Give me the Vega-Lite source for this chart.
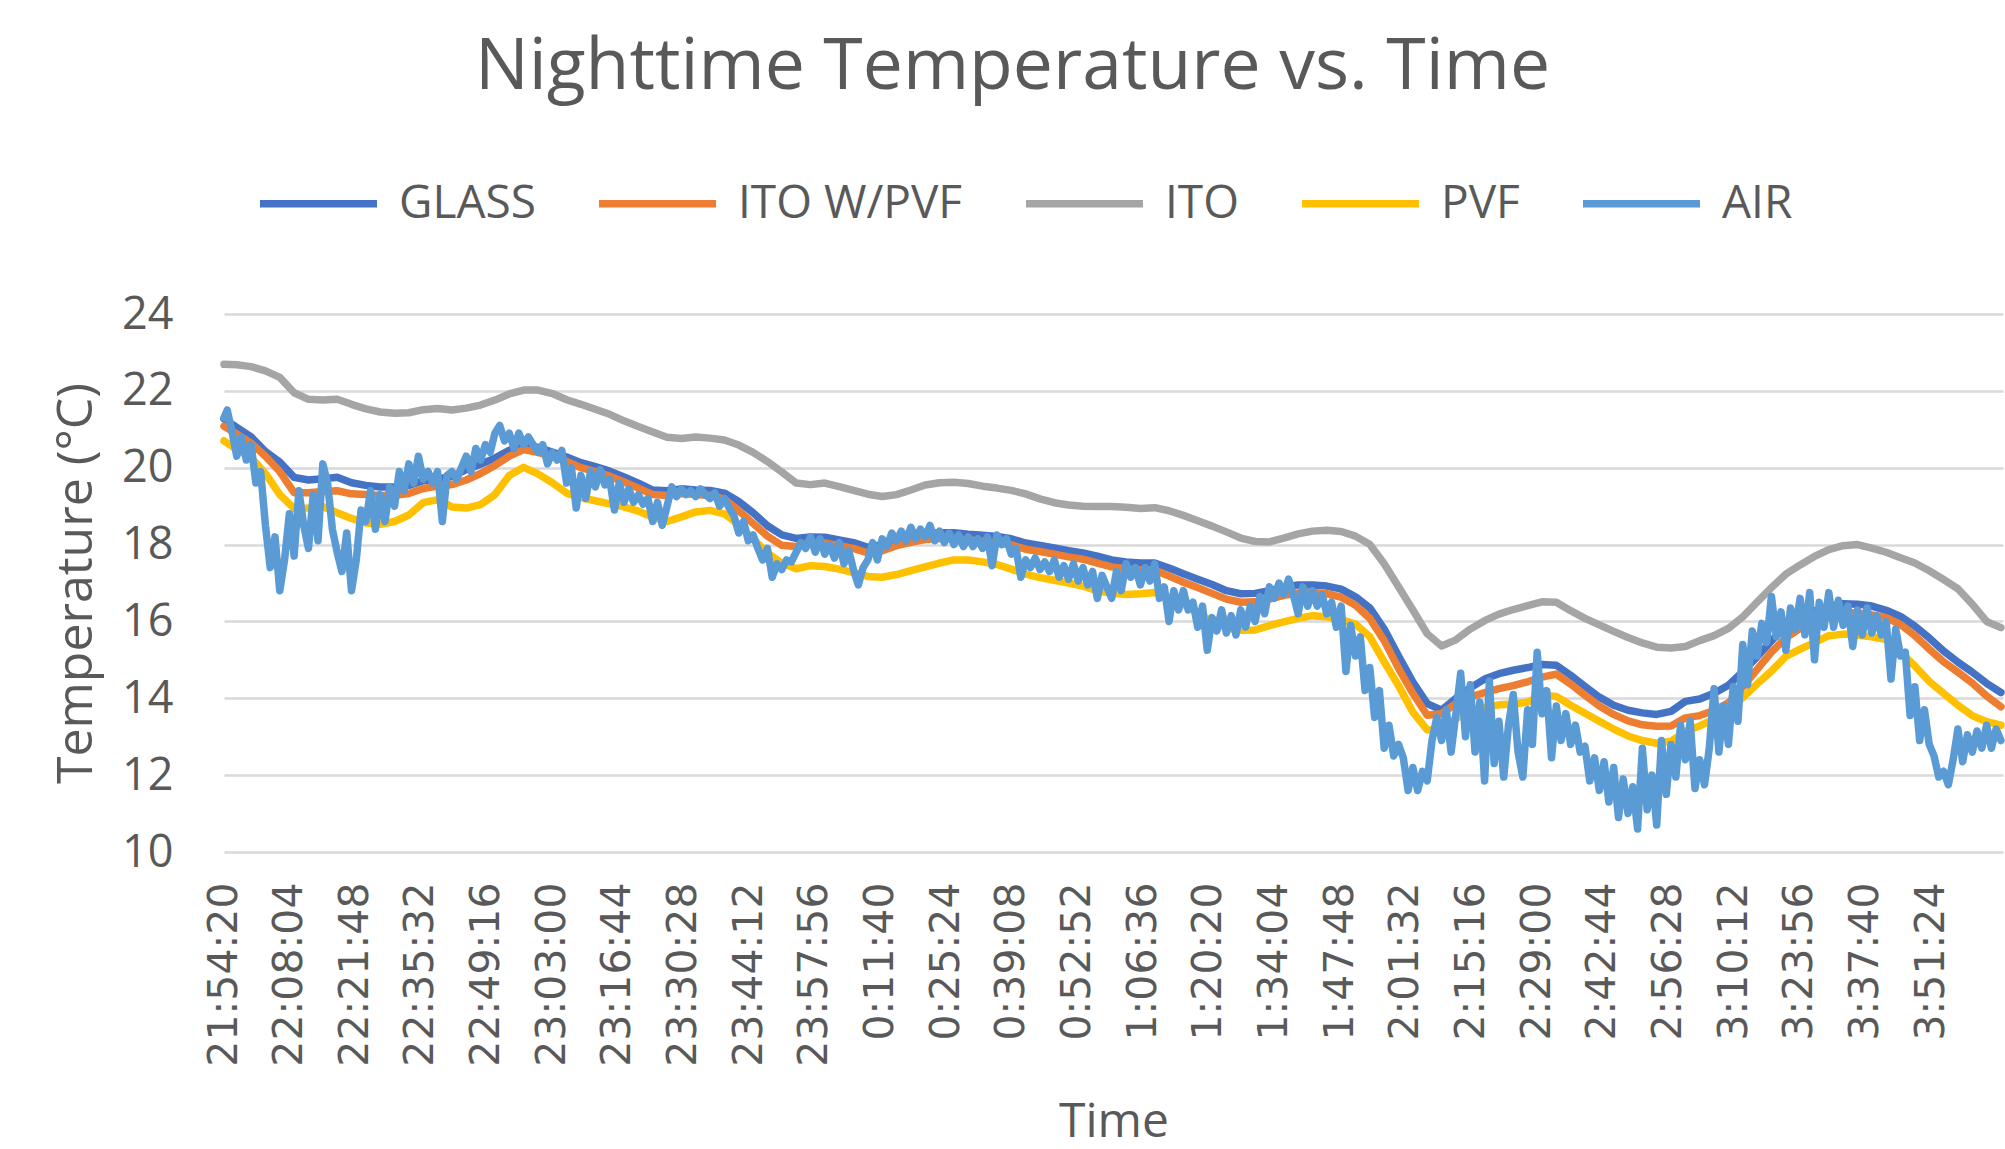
{
"$schema": "https://vega.github.io/schema/vega-lite/v6.json",
"width": 1779, "height": 538,
"autosize": {"type": "none"},
"padding": {"left": 224, "top": 314, "right": 2, "bottom": 297},
"background": "white",
"title": {"text": "Nighttime Temperature vs. Time", "font": "Open Sans", "fontSize": 71.5, "fontWeight": "normal", "color": "#595959", "anchor": "middle", "frame": "group", "dx": -101, "offset": 37},
"config": {"view": {"stroke": null}},
"datasets": {
"smooth": [
{"t":"2021-01-01T21:54:20","GLASS":21.27,"ITO W/PVF":21.08,"ITO":22.69,"PVF":20.7},
{"t":"2021-01-01T21:57","GLASS":21.05,"ITO W/PVF":20.88,"ITO":22.68,"PVF":20.48},
{"t":"2021-01-01T22:00","GLASS":20.8,"ITO W/PVF":20.64,"ITO":22.63,"PVF":20.26},
{"t":"2021-01-01T22:03","GLASS":20.42,"ITO W/PVF":20.3,"ITO":22.52,"PVF":19.85},
{"t":"2021-01-01T22:06","GLASS":20.15,"ITO W/PVF":19.9,"ITO":22.35,"PVF":19.3},
{"t":"2021-01-01T22:09","GLASS":19.75,"ITO W/PVF":19.35,"ITO":21.95,"PVF":18.94},
{"t":"2021-01-01T22:12","GLASS":19.68,"ITO W/PVF":19.35,"ITO":21.78,"PVF":18.95},
{"t":"2021-01-01T22:15","GLASS":19.71,"ITO W/PVF":19.38,"ITO":21.76,"PVF":18.99},
{"t":"2021-01-01T22:18","GLASS":19.75,"ITO W/PVF":19.4,"ITO":21.78,"PVF":18.83},
{"t":"2021-01-01T22:21","GLASS":19.61,"ITO W/PVF":19.32,"ITO":21.65,"PVF":18.68},
{"t":"2021-01-01T22:24","GLASS":19.54,"ITO W/PVF":19.3,"ITO":21.53,"PVF":18.56},
{"t":"2021-01-01T22:27","GLASS":19.5,"ITO W/PVF":19.28,"ITO":21.45,"PVF":18.53},
{"t":"2021-01-01T22:30","GLASS":19.5,"ITO W/PVF":19.28,"ITO":21.42,"PVF":18.6},
{"t":"2021-01-01T22:33","GLASS":19.54,"ITO W/PVF":19.33,"ITO":21.43,"PVF":18.77},
{"t":"2021-01-01T22:36","GLASS":19.66,"ITO W/PVF":19.46,"ITO":21.51,"PVF":19.09},
{"t":"2021-01-01T22:39","GLASS":19.71,"ITO W/PVF":19.52,"ITO":21.54,"PVF":19.17},
{"t":"2021-01-01T22:42","GLASS":19.77,"ITO W/PVF":19.56,"ITO":21.5,"PVF":18.98},
{"t":"2021-01-01T22:45","GLASS":19.95,"ITO W/PVF":19.68,"ITO":21.55,"PVF":18.95},
{"t":"2021-01-01T22:48","GLASS":20.09,"ITO W/PVF":19.85,"ITO":21.63,"PVF":19.04},
{"t":"2021-01-01T22:51","GLASS":20.25,"ITO W/PVF":20.06,"ITO":21.76,"PVF":19.3},
{"t":"2021-01-01T22:54","GLASS":20.45,"ITO W/PVF":20.3,"ITO":21.92,"PVF":19.8},
{"t":"2021-01-01T22:57","GLASS":20.62,"ITO W/PVF":20.47,"ITO":22.02,"PVF":20.01},
{"t":"2021-01-01T23:00","GLASS":20.53,"ITO W/PVF":20.4,"ITO":22.02,"PVF":19.84},
{"t":"2021-01-01T23:03","GLASS":20.41,"ITO W/PVF":20.29,"ITO":21.93,"PVF":19.61},
{"t":"2021-01-01T23:06","GLASS":20.28,"ITO W/PVF":20.16,"ITO":21.77,"PVF":19.34},
{"t":"2021-01-01T23:09","GLASS":20.13,"ITO W/PVF":20.0,"ITO":21.65,"PVF":19.22},
{"t":"2021-01-01T23:12","GLASS":20.03,"ITO W/PVF":19.9,"ITO":21.52,"PVF":19.14},
{"t":"2021-01-01T23:15","GLASS":19.91,"ITO W/PVF":19.78,"ITO":21.39,"PVF":19.06},
{"t":"2021-01-01T23:18","GLASS":19.76,"ITO W/PVF":19.63,"ITO":21.22,"PVF":18.98},
{"t":"2021-01-01T23:21","GLASS":19.6,"ITO W/PVF":19.47,"ITO":21.07,"PVF":18.87},
{"t":"2021-01-01T23:24","GLASS":19.42,"ITO W/PVF":19.3,"ITO":20.93,"PVF":18.71},
{"t":"2021-01-01T23:27","GLASS":19.4,"ITO W/PVF":19.28,"ITO":20.79,"PVF":18.6},
{"t":"2021-01-01T23:30","GLASS":19.45,"ITO W/PVF":19.33,"ITO":20.76,"PVF":18.72},
{"t":"2021-01-01T23:33","GLASS":19.42,"ITO W/PVF":19.3,"ITO":20.8,"PVF":18.85},
{"t":"2021-01-01T23:36","GLASS":19.41,"ITO W/PVF":19.28,"ITO":20.77,"PVF":18.89},
{"t":"2021-01-01T23:39","GLASS":19.34,"ITO W/PVF":19.18,"ITO":20.72,"PVF":18.8},
{"t":"2021-01-01T23:42","GLASS":19.12,"ITO W/PVF":18.88,"ITO":20.59,"PVF":18.52},
{"t":"2021-01-01T23:45","GLASS":18.83,"ITO W/PVF":18.55,"ITO":20.4,"PVF":18.15},
{"t":"2021-01-01T23:48","GLASS":18.49,"ITO W/PVF":18.22,"ITO":20.16,"PVF":17.78},
{"t":"2021-01-01T23:51","GLASS":18.25,"ITO W/PVF":17.98,"ITO":19.89,"PVF":17.52},
{"t":"2021-01-01T23:54","GLASS":18.16,"ITO W/PVF":17.95,"ITO":19.6,"PVF":17.37},
{"t":"2021-01-01T23:57","GLASS":18.2,"ITO W/PVF":18.04,"ITO":19.56,"PVF":17.45},
{"t":"2021-01-02T00:00","GLASS":18.19,"ITO W/PVF":18.04,"ITO":19.6,"PVF":17.43},
{"t":"2021-01-02T00:03","GLASS":18.12,"ITO W/PVF":17.97,"ITO":19.51,"PVF":17.36},
{"t":"2021-01-02T00:06","GLASS":18.05,"ITO W/PVF":17.9,"ITO":19.41,"PVF":17.27},
{"t":"2021-01-02T00:09","GLASS":17.93,"ITO W/PVF":17.78,"ITO":19.31,"PVF":17.17},
{"t":"2021-01-02T00:12","GLASS":18.0,"ITO W/PVF":17.84,"ITO":19.25,"PVF":17.15},
{"t":"2021-01-02T00:15","GLASS":18.12,"ITO W/PVF":17.97,"ITO":19.3,"PVF":17.22},
{"t":"2021-01-02T00:18","GLASS":18.21,"ITO W/PVF":18.06,"ITO":19.42,"PVF":17.32},
{"t":"2021-01-02T00:21","GLASS":18.28,"ITO W/PVF":18.13,"ITO":19.55,"PVF":17.42},
{"t":"2021-01-02T00:24","GLASS":18.31,"ITO W/PVF":18.16,"ITO":19.61,"PVF":17.52},
{"t":"2021-01-02T00:27","GLASS":18.31,"ITO W/PVF":18.16,"ITO":19.62,"PVF":17.6},
{"t":"2021-01-02T00:30","GLASS":18.27,"ITO W/PVF":18.12,"ITO":19.59,"PVF":17.6},
{"t":"2021-01-02T00:33","GLASS":18.24,"ITO W/PVF":18.09,"ITO":19.52,"PVF":17.55},
{"t":"2021-01-02T00:36","GLASS":18.21,"ITO W/PVF":18.05,"ITO":19.47,"PVF":17.48},
{"t":"2021-01-02T00:39","GLASS":18.15,"ITO W/PVF":17.99,"ITO":19.41,"PVF":17.36},
{"t":"2021-01-02T00:42","GLASS":18.04,"ITO W/PVF":17.88,"ITO":19.32,"PVF":17.23},
{"t":"2021-01-02T00:45","GLASS":17.98,"ITO W/PVF":17.82,"ITO":19.19,"PVF":17.14},
{"t":"2021-01-02T00:48","GLASS":17.91,"ITO W/PVF":17.75,"ITO":19.09,"PVF":17.07},
{"t":"2021-01-02T00:51","GLASS":17.84,"ITO W/PVF":17.68,"ITO":19.03,"PVF":17.0},
{"t":"2021-01-02T00:54","GLASS":17.78,"ITO W/PVF":17.62,"ITO":19.0,"PVF":16.92},
{"t":"2021-01-02T00:57","GLASS":17.7,"ITO W/PVF":17.52,"ITO":18.99,"PVF":16.79},
{"t":"2021-01-02T01:00","GLASS":17.6,"ITO W/PVF":17.42,"ITO":18.99,"PVF":16.74},
{"t":"2021-01-02T01:03","GLASS":17.55,"ITO W/PVF":17.37,"ITO":18.97,"PVF":16.7},
{"t":"2021-01-02T01:06","GLASS":17.52,"ITO W/PVF":17.34,"ITO":18.94,"PVF":16.72},
{"t":"2021-01-02T01:09","GLASS":17.52,"ITO W/PVF":17.33,"ITO":18.96,"PVF":16.75},
{"t":"2021-01-02T01:12","GLASS":17.39,"ITO W/PVF":17.18,"ITO":18.88,"PVF":16.64},
{"t":"2021-01-02T01:15","GLASS":17.24,"ITO W/PVF":17.02,"ITO":18.76,"PVF":16.45},
{"t":"2021-01-02T01:18","GLASS":17.1,"ITO W/PVF":16.88,"ITO":18.62,"PVF":16.21},
{"t":"2021-01-02T01:21","GLASS":16.96,"ITO W/PVF":16.73,"ITO":18.48,"PVF":16.0},
{"t":"2021-01-02T01:24","GLASS":16.8,"ITO W/PVF":16.58,"ITO":18.33,"PVF":15.83},
{"t":"2021-01-02T01:27","GLASS":16.72,"ITO W/PVF":16.5,"ITO":18.17,"PVF":15.77},
{"t":"2021-01-02T01:30","GLASS":16.73,"ITO W/PVF":16.51,"ITO":18.08,"PVF":15.78},
{"t":"2021-01-02T01:33","GLASS":16.8,"ITO W/PVF":16.58,"ITO":18.07,"PVF":15.89},
{"t":"2021-01-02T01:36","GLASS":16.89,"ITO W/PVF":16.68,"ITO":18.17,"PVF":15.99},
{"t":"2021-01-02T01:39","GLASS":16.95,"ITO W/PVF":16.74,"ITO":18.28,"PVF":16.08},
{"t":"2021-01-02T01:42","GLASS":16.95,"ITO W/PVF":16.75,"ITO":18.35,"PVF":16.15},
{"t":"2021-01-02T01:45","GLASS":16.92,"ITO W/PVF":16.72,"ITO":18.37,"PVF":16.12},
{"t":"2021-01-02T01:48","GLASS":16.84,"ITO W/PVF":16.63,"ITO":18.34,"PVF":16.05},
{"t":"2021-01-02T01:51","GLASS":16.64,"ITO W/PVF":16.42,"ITO":18.22,"PVF":15.93},
{"t":"2021-01-02T01:54","GLASS":16.35,"ITO W/PVF":16.08,"ITO":18.0,"PVF":15.6},
{"t":"2021-01-02T01:57","GLASS":15.8,"ITO W/PVF":15.5,"ITO":17.5,"PVF":14.95},
{"t":"2021-01-02T02:00","GLASS":15.1,"ITO W/PVF":14.78,"ITO":16.9,"PVF":14.33},
{"t":"2021-01-02T02:03","GLASS":14.42,"ITO W/PVF":14.13,"ITO":16.3,"PVF":13.64},
{"t":"2021-01-02T02:06","GLASS":13.86,"ITO W/PVF":13.56,"ITO":15.68,"PVF":13.18},
{"t":"2021-01-02T02:09","GLASS":13.69,"ITO W/PVF":13.6,"ITO":15.36,"PVF":13.15},
{"t":"2021-01-02T02:12","GLASS":14.0,"ITO W/PVF":13.86,"ITO":15.52,"PVF":13.48},
{"t":"2021-01-02T02:15","GLASS":14.27,"ITO W/PVF":14.03,"ITO":15.8,"PVF":13.65},
{"t":"2021-01-02T02:18","GLASS":14.5,"ITO W/PVF":14.15,"ITO":16.02,"PVF":13.76},
{"t":"2021-01-02T02:21","GLASS":14.64,"ITO W/PVF":14.25,"ITO":16.19,"PVF":13.83},
{"t":"2021-01-02T02:24","GLASS":14.73,"ITO W/PVF":14.33,"ITO":16.31,"PVF":13.85},
{"t":"2021-01-02T02:27","GLASS":14.8,"ITO W/PVF":14.43,"ITO":16.41,"PVF":13.9},
{"t":"2021-01-02T02:30","GLASS":14.88,"ITO W/PVF":14.55,"ITO":16.51,"PVF":14.08},
{"t":"2021-01-02T02:33","GLASS":14.86,"ITO W/PVF":14.63,"ITO":16.5,"PVF":14.05},
{"t":"2021-01-02T02:36","GLASS":14.6,"ITO W/PVF":14.37,"ITO":16.28,"PVF":13.82},
{"t":"2021-01-02T02:39","GLASS":14.31,"ITO W/PVF":14.08,"ITO":16.08,"PVF":13.61},
{"t":"2021-01-02T02:42","GLASS":14.03,"ITO W/PVF":13.8,"ITO":15.91,"PVF":13.4},
{"t":"2021-01-02T02:45","GLASS":13.82,"ITO W/PVF":13.58,"ITO":15.74,"PVF":13.2},
{"t":"2021-01-02T02:48","GLASS":13.69,"ITO W/PVF":13.41,"ITO":15.58,"PVF":13.02},
{"t":"2021-01-02T02:51","GLASS":13.62,"ITO W/PVF":13.31,"ITO":15.44,"PVF":12.9},
{"t":"2021-01-02T02:54","GLASS":13.58,"ITO W/PVF":13.27,"ITO":15.33,"PVF":12.83},
{"t":"2021-01-02T02:57","GLASS":13.66,"ITO W/PVF":13.28,"ITO":15.31,"PVF":12.88},
{"t":"2021-01-02T03:00","GLASS":13.92,"ITO W/PVF":13.49,"ITO":15.35,"PVF":13.14},
{"t":"2021-01-02T03:03","GLASS":13.98,"ITO W/PVF":13.55,"ITO":15.5,"PVF":13.28},
{"t":"2021-01-02T03:06","GLASS":14.13,"ITO W/PVF":13.68,"ITO":15.63,"PVF":13.46},
{"t":"2021-01-02T03:09","GLASS":14.34,"ITO W/PVF":13.88,"ITO":15.82,"PVF":13.68},
{"t":"2021-01-02T03:12","GLASS":14.69,"ITO W/PVF":14.3,"ITO":16.12,"PVF":14.02},
{"t":"2021-01-02T03:15","GLASS":15.08,"ITO W/PVF":14.75,"ITO":16.5,"PVF":14.37},
{"t":"2021-01-02T03:18","GLASS":15.49,"ITO W/PVF":15.2,"ITO":16.88,"PVF":14.71},
{"t":"2021-01-02T03:21","GLASS":15.9,"ITO W/PVF":15.57,"ITO":17.23,"PVF":15.09},
{"t":"2021-01-02T03:24","GLASS":16.1,"ITO W/PVF":15.82,"ITO":17.47,"PVF":15.28},
{"t":"2021-01-02T03:27","GLASS":16.27,"ITO W/PVF":16.0,"ITO":17.69,"PVF":15.45},
{"t":"2021-01-02T03:30","GLASS":16.39,"ITO W/PVF":16.16,"ITO":17.87,"PVF":15.63},
{"t":"2021-01-02T03:33","GLASS":16.46,"ITO W/PVF":16.23,"ITO":17.97,"PVF":15.67},
{"t":"2021-01-02T03:36","GLASS":16.45,"ITO W/PVF":16.22,"ITO":18.0,"PVF":15.64},
{"t":"2021-01-02T03:39","GLASS":16.4,"ITO W/PVF":16.17,"ITO":17.91,"PVF":15.6},
{"t":"2021-01-02T03:42","GLASS":16.29,"ITO W/PVF":16.1,"ITO":17.8,"PVF":15.53},
{"t":"2021-01-02T03:45","GLASS":16.13,"ITO W/PVF":15.92,"ITO":17.66,"PVF":15.2},
{"t":"2021-01-02T03:48","GLASS":15.88,"ITO W/PVF":15.63,"ITO":17.52,"PVF":14.84},
{"t":"2021-01-02T03:51","GLASS":15.57,"ITO W/PVF":15.28,"ITO":17.32,"PVF":14.44},
{"t":"2021-01-02T03:54","GLASS":15.23,"ITO W/PVF":14.95,"ITO":17.09,"PVF":14.13},
{"t":"2021-01-02T03:57","GLASS":14.94,"ITO W/PVF":14.68,"ITO":16.85,"PVF":13.82},
{"t":"2021-01-02T04:00","GLASS":14.68,"ITO W/PVF":14.4,"ITO":16.45,"PVF":13.55},
{"t":"2021-01-02T04:03","GLASS":14.39,"ITO W/PVF":14.06,"ITO":16.0,"PVF":13.39},
{"t":"2021-01-02T04:06","GLASS":14.15,"ITO W/PVF":13.78,"ITO":15.84,"PVF":13.3}
],
"air": [
{"t":"2021-01-01T21:54:20","AIR":21.3},{"t":"2021-01-01T21:55","AIR":21.5},{"t":"2021-01-01T21:56","AIR":20.95},{"t":"2021-01-01T21:57","AIR":20.3},{"t":"2021-01-01T21:58","AIR":20.8},{"t":"2021-01-01T21:59","AIR":20.2},
{"t":"2021-01-01T22:00","AIR":20.6},{"t":"2021-01-01T22:01","AIR":19.6},{"t":"2021-01-01T22:02","AIR":19.9},{"t":"2021-01-01T22:03","AIR":18.5},{"t":"2021-01-01T22:04","AIR":17.4},{"t":"2021-01-01T22:05","AIR":18.2},{"t":"2021-01-01T22:06","AIR":16.8},{"t":"2021-01-01T22:07","AIR":17.6},{"t":"2021-01-01T22:08","AIR":18.8},{"t":"2021-01-01T22:09","AIR":17.7},
{"t":"2021-01-01T22:10","AIR":19.4},{"t":"2021-01-01T22:11","AIR":18.5},{"t":"2021-01-01T22:12","AIR":17.9},{"t":"2021-01-01T22:13","AIR":19.3},{"t":"2021-01-01T22:14","AIR":18.1},{"t":"2021-01-01T22:15","AIR":20.1},{"t":"2021-01-01T22:16","AIR":19.6},{"t":"2021-01-01T22:17","AIR":18.4},{"t":"2021-01-01T22:18","AIR":17.8},{"t":"2021-01-01T22:19","AIR":17.3},
{"t":"2021-01-01T22:20","AIR":18.3},{"t":"2021-01-01T22:21","AIR":16.8},{"t":"2021-01-01T22:22","AIR":17.6},{"t":"2021-01-01T22:23","AIR":18.9},{"t":"2021-01-01T22:24","AIR":18.6},{"t":"2021-01-01T22:25","AIR":19.4},{"t":"2021-01-01T22:26","AIR":18.4},{"t":"2021-01-01T22:27","AIR":19.3},{"t":"2021-01-01T22:28","AIR":18.6},{"t":"2021-01-01T22:29","AIR":19.5},
{"t":"2021-01-01T22:30","AIR":19.0},{"t":"2021-01-01T22:31","AIR":19.9},{"t":"2021-01-01T22:32","AIR":19.4},{"t":"2021-01-01T22:33","AIR":20.1},{"t":"2021-01-01T22:34","AIR":19.6},{"t":"2021-01-01T22:35","AIR":20.3},{"t":"2021-01-01T22:36","AIR":19.7},{"t":"2021-01-01T22:37","AIR":19.9},{"t":"2021-01-01T22:38","AIR":19.6},{"t":"2021-01-01T22:39","AIR":19.9},
{"t":"2021-01-01T22:40","AIR":18.6},{"t":"2021-01-01T22:41","AIR":19.8},{"t":"2021-01-01T22:42","AIR":19.9},{"t":"2021-01-01T22:43","AIR":19.7},{"t":"2021-01-01T22:44","AIR":20.0},{"t":"2021-01-01T22:45","AIR":20.3},{"t":"2021-01-01T22:46","AIR":19.9},{"t":"2021-01-01T22:47","AIR":20.5},{"t":"2021-01-01T22:48","AIR":20.2},{"t":"2021-01-01T22:49","AIR":20.6},
{"t":"2021-01-01T22:50","AIR":20.4},{"t":"2021-01-01T22:51","AIR":20.9},{"t":"2021-01-01T22:52","AIR":21.1},{"t":"2021-01-01T22:53","AIR":20.7},{"t":"2021-01-01T22:54","AIR":20.9},{"t":"2021-01-01T22:55","AIR":20.5},{"t":"2021-01-01T22:56","AIR":20.9},{"t":"2021-01-01T22:57","AIR":20.6},{"t":"2021-01-01T22:58","AIR":20.8},{"t":"2021-01-01T22:59","AIR":20.6},
{"t":"2021-01-01T23:00","AIR":20.4},{"t":"2021-01-01T23:01","AIR":20.6},{"t":"2021-01-01T23:02","AIR":20.1},{"t":"2021-01-01T23:03","AIR":20.4},{"t":"2021-01-01T23:04","AIR":20.2},{"t":"2021-01-01T23:05","AIR":20.45},{"t":"2021-01-01T23:06","AIR":19.6},{"t":"2021-01-01T23:07","AIR":20.0},{"t":"2021-01-01T23:08","AIR":18.95},{"t":"2021-01-01T23:09","AIR":19.8},
{"t":"2021-01-01T23:10","AIR":19.2},{"t":"2021-01-01T23:11","AIR":19.9},{"t":"2021-01-01T23:12","AIR":19.5},{"t":"2021-01-01T23:13","AIR":19.95},{"t":"2021-01-01T23:14","AIR":19.55},{"t":"2021-01-01T23:15","AIR":19.7},{"t":"2021-01-01T23:16","AIR":18.9},{"t":"2021-01-01T23:17","AIR":19.6},{"t":"2021-01-01T23:18","AIR":19.1},{"t":"2021-01-01T23:19","AIR":19.45},
{"t":"2021-01-01T23:20","AIR":19.1},{"t":"2021-01-01T23:21","AIR":19.3},{"t":"2021-01-01T23:22","AIR":19.05},{"t":"2021-01-01T23:23","AIR":19.2},{"t":"2021-01-01T23:24","AIR":18.6},{"t":"2021-01-01T23:25","AIR":19.1},{"t":"2021-01-01T23:26","AIR":18.5},{"t":"2021-01-01T23:27","AIR":19.0},{"t":"2021-01-01T23:28","AIR":19.5},{"t":"2021-01-01T23:29","AIR":19.25},
{"t":"2021-01-01T23:30","AIR":19.45},{"t":"2021-01-01T23:31","AIR":19.3},{"t":"2021-01-01T23:32","AIR":19.4},{"t":"2021-01-01T23:33","AIR":19.25},{"t":"2021-01-01T23:34","AIR":19.45},{"t":"2021-01-01T23:35","AIR":19.3},{"t":"2021-01-01T23:36","AIR":19.2},{"t":"2021-01-01T23:37","AIR":19.35},{"t":"2021-01-01T23:38","AIR":19.0},{"t":"2021-01-01T23:39","AIR":19.2},
{"t":"2021-01-01T23:40","AIR":18.95},{"t":"2021-01-01T23:41","AIR":18.75},{"t":"2021-01-01T23:42","AIR":18.3},{"t":"2021-01-01T23:43","AIR":18.6},{"t":"2021-01-01T23:44","AIR":18.1},{"t":"2021-01-01T23:45","AIR":18.25},{"t":"2021-01-01T23:46","AIR":17.9},{"t":"2021-01-01T23:47","AIR":17.6},{"t":"2021-01-01T23:48","AIR":17.9},{"t":"2021-01-01T23:49","AIR":17.15},
{"t":"2021-01-01T23:50","AIR":17.5},{"t":"2021-01-01T23:51","AIR":17.35},{"t":"2021-01-01T23:52","AIR":17.6},{"t":"2021-01-01T23:53","AIR":17.55},{"t":"2021-01-01T23:54","AIR":17.8},{"t":"2021-01-01T23:55","AIR":18.05},{"t":"2021-01-01T23:56","AIR":17.9},{"t":"2021-01-01T23:57","AIR":18.2},{"t":"2021-01-01T23:58","AIR":17.8},{"t":"2021-01-01T23:59","AIR":18.15},
{"t":"2021-01-02T00:00","AIR":17.75},{"t":"2021-01-02T00:01","AIR":18.0},{"t":"2021-01-02T00:02","AIR":17.65},{"t":"2021-01-02T00:03","AIR":18.05},{"t":"2021-01-02T00:04","AIR":17.5},{"t":"2021-01-02T00:05","AIR":17.85},{"t":"2021-01-02T00:06","AIR":17.35},{"t":"2021-01-02T00:07","AIR":16.95},{"t":"2021-01-02T00:08","AIR":17.4},{"t":"2021-01-02T00:09","AIR":17.6},
{"t":"2021-01-02T00:10","AIR":18.05},{"t":"2021-01-02T00:11","AIR":17.6},{"t":"2021-01-02T00:12","AIR":18.15},{"t":"2021-01-02T00:13","AIR":17.95},{"t":"2021-01-02T00:14","AIR":18.3},{"t":"2021-01-02T00:15","AIR":18.1},{"t":"2021-01-02T00:16","AIR":18.35},{"t":"2021-01-02T00:17","AIR":18.1},{"t":"2021-01-02T00:18","AIR":18.45},{"t":"2021-01-02T00:19","AIR":18.15},
{"t":"2021-01-02T00:20","AIR":18.4},{"t":"2021-01-02T00:21","AIR":18.2},{"t":"2021-01-02T00:22","AIR":18.5},{"t":"2021-01-02T00:23","AIR":18.1},{"t":"2021-01-02T00:24","AIR":18.35},{"t":"2021-01-02T00:25","AIR":18.05},{"t":"2021-01-02T00:26","AIR":18.3},{"t":"2021-01-02T00:27","AIR":18.0},{"t":"2021-01-02T00:28","AIR":18.25},{"t":"2021-01-02T00:29","AIR":17.95},
{"t":"2021-01-02T00:30","AIR":18.2},{"t":"2021-01-02T00:31","AIR":17.95},{"t":"2021-01-02T00:32","AIR":18.15},{"t":"2021-01-02T00:33","AIR":17.9},{"t":"2021-01-02T00:34","AIR":18.2},{"t":"2021-01-02T00:35","AIR":17.45},{"t":"2021-01-02T00:36","AIR":18.25},{"t":"2021-01-02T00:37","AIR":18.0},{"t":"2021-01-02T00:38","AIR":18.15},{"t":"2021-01-02T00:39","AIR":17.75},
{"t":"2021-01-02T00:40","AIR":17.9},{"t":"2021-01-02T00:41","AIR":17.15},{"t":"2021-01-02T00:42","AIR":17.6},{"t":"2021-01-02T00:43","AIR":17.4},{"t":"2021-01-02T00:44","AIR":17.65},{"t":"2021-01-02T00:45","AIR":17.35},{"t":"2021-01-02T00:46","AIR":17.55},{"t":"2021-01-02T00:47","AIR":17.3},{"t":"2021-01-02T00:48","AIR":17.6},{"t":"2021-01-02T00:49","AIR":17.15},
{"t":"2021-01-02T00:50","AIR":17.45},{"t":"2021-01-02T00:51","AIR":17.1},{"t":"2021-01-02T00:52","AIR":17.5},{"t":"2021-01-02T00:53","AIR":17.05},{"t":"2021-01-02T00:54","AIR":17.4},{"t":"2021-01-02T00:55","AIR":16.95},{"t":"2021-01-02T00:56","AIR":17.3},{"t":"2021-01-02T00:57","AIR":16.6},{"t":"2021-01-02T00:58","AIR":17.2},{"t":"2021-01-02T00:59","AIR":16.9},
{"t":"2021-01-02T01:00","AIR":16.6},{"t":"2021-01-02T01:01","AIR":17.3},{"t":"2021-01-02T01:02","AIR":16.8},{"t":"2021-01-02T01:03","AIR":17.5},{"t":"2021-01-02T01:04","AIR":17.15},{"t":"2021-01-02T01:05","AIR":17.4},{"t":"2021-01-02T01:06","AIR":16.95},{"t":"2021-01-02T01:07","AIR":17.4},{"t":"2021-01-02T01:08","AIR":17.05},{"t":"2021-01-02T01:09","AIR":17.5},
{"t":"2021-01-02T01:10","AIR":16.6},{"t":"2021-01-02T01:11","AIR":16.9},{"t":"2021-01-02T01:12","AIR":16.0},{"t":"2021-01-02T01:13","AIR":16.8},{"t":"2021-01-02T01:14","AIR":16.3},{"t":"2021-01-02T01:15","AIR":16.8},{"t":"2021-01-02T01:16","AIR":16.3},{"t":"2021-01-02T01:17","AIR":16.5},{"t":"2021-01-02T01:18","AIR":15.85},{"t":"2021-01-02T01:19","AIR":16.4},
{"t":"2021-01-02T01:20","AIR":15.25},{"t":"2021-01-02T01:21","AIR":16.1},{"t":"2021-01-02T01:22","AIR":15.75},{"t":"2021-01-02T01:23","AIR":16.3},{"t":"2021-01-02T01:24","AIR":15.7},{"t":"2021-01-02T01:25","AIR":16.15},{"t":"2021-01-02T01:26","AIR":15.65},{"t":"2021-01-02T01:27","AIR":16.3},{"t":"2021-01-02T01:28","AIR":15.85},{"t":"2021-01-02T01:29","AIR":16.4},
{"t":"2021-01-02T01:30","AIR":16.0},{"t":"2021-01-02T01:31","AIR":16.65},{"t":"2021-01-02T01:32","AIR":16.2},{"t":"2021-01-02T01:33","AIR":16.9},{"t":"2021-01-02T01:34","AIR":16.6},{"t":"2021-01-02T01:35","AIR":17.0},{"t":"2021-01-02T01:36","AIR":16.7},{"t":"2021-01-02T01:37","AIR":17.1},{"t":"2021-01-02T01:38","AIR":16.7},{"t":"2021-01-02T01:39","AIR":16.2},
{"t":"2021-01-02T01:40","AIR":16.9},{"t":"2021-01-02T01:41","AIR":16.4},{"t":"2021-01-02T01:42","AIR":16.8},{"t":"2021-01-02T01:43","AIR":16.4},{"t":"2021-01-02T01:44","AIR":16.7},{"t":"2021-01-02T01:45","AIR":16.2},{"t":"2021-01-02T01:46","AIR":16.5},{"t":"2021-01-02T01:47","AIR":15.85},{"t":"2021-01-02T01:48","AIR":16.4},{"t":"2021-01-02T01:49","AIR":14.7},
{"t":"2021-01-02T01:50","AIR":15.9},{"t":"2021-01-02T01:51","AIR":15.1},{"t":"2021-01-02T01:52","AIR":15.6},{"t":"2021-01-02T01:53","AIR":14.2},{"t":"2021-01-02T01:54","AIR":14.8},{"t":"2021-01-02T01:55","AIR":13.5},{"t":"2021-01-02T01:56","AIR":14.2},{"t":"2021-01-02T01:57","AIR":12.7},{"t":"2021-01-02T01:58","AIR":13.3},{"t":"2021-01-02T01:59","AIR":12.5},
{"t":"2021-01-02T02:00","AIR":12.8},{"t":"2021-01-02T02:01","AIR":12.45},{"t":"2021-01-02T02:02","AIR":11.6},{"t":"2021-01-02T02:03","AIR":12.2},{"t":"2021-01-02T02:04","AIR":11.6},{"t":"2021-01-02T02:05","AIR":12.1},{"t":"2021-01-02T02:06","AIR":11.85},{"t":"2021-01-02T02:07","AIR":12.9},{"t":"2021-01-02T02:08","AIR":13.5},{"t":"2021-01-02T02:09","AIR":12.9},
{"t":"2021-01-02T02:10","AIR":13.7},{"t":"2021-01-02T02:11","AIR":12.6},{"t":"2021-01-02T02:12","AIR":13.6},{"t":"2021-01-02T02:13","AIR":14.65},{"t":"2021-01-02T02:14","AIR":13.0},{"t":"2021-01-02T02:15","AIR":14.35},{"t":"2021-01-02T02:16","AIR":12.6},{"t":"2021-01-02T02:17","AIR":13.9},{"t":"2021-01-02T02:18","AIR":11.85},{"t":"2021-01-02T02:19","AIR":14.45},
{"t":"2021-01-02T02:20","AIR":12.3},{"t":"2021-01-02T02:21","AIR":13.4},{"t":"2021-01-02T02:22","AIR":11.95},{"t":"2021-01-02T02:23","AIR":13.3},{"t":"2021-01-02T02:24","AIR":14.1},{"t":"2021-01-02T02:25","AIR":12.6},{"t":"2021-01-02T02:26","AIR":11.95},{"t":"2021-01-02T02:27","AIR":13.7},{"t":"2021-01-02T02:28","AIR":12.8},{"t":"2021-01-02T02:29","AIR":15.2},
{"t":"2021-01-02T02:30","AIR":13.6},{"t":"2021-01-02T02:31","AIR":14.2},{"t":"2021-01-02T02:32","AIR":12.45},{"t":"2021-01-02T02:33","AIR":13.8},{"t":"2021-01-02T02:34","AIR":12.9},{"t":"2021-01-02T02:35","AIR":13.6},{"t":"2021-01-02T02:36","AIR":12.8},{"t":"2021-01-02T02:37","AIR":13.3},{"t":"2021-01-02T02:38","AIR":12.6},{"t":"2021-01-02T02:39","AIR":12.75},
{"t":"2021-01-02T02:40","AIR":11.85},{"t":"2021-01-02T02:41","AIR":12.45},{"t":"2021-01-02T02:42","AIR":11.6},{"t":"2021-01-02T02:43","AIR":12.35},{"t":"2021-01-02T02:44","AIR":11.3},{"t":"2021-01-02T02:45","AIR":12.2},{"t":"2021-01-02T02:46","AIR":10.9},{"t":"2021-01-02T02:47","AIR":11.9},{"t":"2021-01-02T02:48","AIR":11.0},{"t":"2021-01-02T02:49","AIR":11.7},
{"t":"2021-01-02T02:50","AIR":10.6},{"t":"2021-01-02T02:51","AIR":12.7},{"t":"2021-01-02T02:52","AIR":11.1},{"t":"2021-01-02T02:53","AIR":12.0},{"t":"2021-01-02T02:54","AIR":10.7},{"t":"2021-01-02T02:55","AIR":12.9},{"t":"2021-01-02T02:56","AIR":11.5},{"t":"2021-01-02T02:57","AIR":12.8},{"t":"2021-01-02T02:58","AIR":11.95},{"t":"2021-01-02T02:59","AIR":13.3},
{"t":"2021-01-02T03:00","AIR":12.4},{"t":"2021-01-02T03:01","AIR":13.4},{"t":"2021-01-02T03:02","AIR":11.65},{"t":"2021-01-02T03:03","AIR":12.4},{"t":"2021-01-02T03:04","AIR":11.75},{"t":"2021-01-02T03:05","AIR":12.7},{"t":"2021-01-02T03:06","AIR":14.25},{"t":"2021-01-02T03:07","AIR":12.6},{"t":"2021-01-02T03:08","AIR":13.8},{"t":"2021-01-02T03:09","AIR":12.8},
{"t":"2021-01-02T03:10","AIR":14.3},{"t":"2021-01-02T03:11","AIR":13.4},{"t":"2021-01-02T03:12","AIR":15.4},{"t":"2021-01-02T03:13","AIR":14.35},{"t":"2021-01-02T03:14","AIR":15.75},{"t":"2021-01-02T03:15","AIR":15.1},{"t":"2021-01-02T03:16","AIR":15.95},{"t":"2021-01-02T03:17","AIR":15.45},{"t":"2021-01-02T03:18","AIR":16.65},{"t":"2021-01-02T03:19","AIR":15.6},
{"t":"2021-01-02T03:20","AIR":16.25},{"t":"2021-01-02T03:21","AIR":15.25},{"t":"2021-01-02T03:22","AIR":16.35},{"t":"2021-01-02T03:23","AIR":15.8},{"t":"2021-01-02T03:24","AIR":16.6},{"t":"2021-01-02T03:25","AIR":15.65},{"t":"2021-01-02T03:26","AIR":16.75},{"t":"2021-01-02T03:27","AIR":15.0},{"t":"2021-01-02T03:28","AIR":16.5},{"t":"2021-01-02T03:29","AIR":15.85},
{"t":"2021-01-02T03:30","AIR":16.75},{"t":"2021-01-02T03:31","AIR":15.85},{"t":"2021-01-02T03:32","AIR":16.55},{"t":"2021-01-02T03:33","AIR":15.9},{"t":"2021-01-02T03:34","AIR":16.4},{"t":"2021-01-02T03:35","AIR":15.35},{"t":"2021-01-02T03:36","AIR":16.3},{"t":"2021-01-02T03:37","AIR":15.65},{"t":"2021-01-02T03:38","AIR":16.35},{"t":"2021-01-02T03:39","AIR":15.7},
{"t":"2021-01-02T03:40","AIR":16.15},{"t":"2021-01-02T03:41","AIR":15.65},{"t":"2021-01-02T03:42","AIR":16.0},{"t":"2021-01-02T03:43","AIR":14.5},{"t":"2021-01-02T03:44","AIR":15.8},{"t":"2021-01-02T03:45","AIR":15.1},{"t":"2021-01-02T03:46","AIR":15.2},{"t":"2021-01-02T03:47","AIR":13.55},{"t":"2021-01-02T03:48","AIR":14.3},{"t":"2021-01-02T03:49","AIR":12.9},
{"t":"2021-01-02T03:50","AIR":13.7},{"t":"2021-01-02T03:51","AIR":12.8},{"t":"2021-01-02T03:52","AIR":12.5},{"t":"2021-01-02T03:53","AIR":11.95},{"t":"2021-01-02T03:54","AIR":12.1},{"t":"2021-01-02T03:55","AIR":11.75},{"t":"2021-01-02T03:56","AIR":12.4},{"t":"2021-01-02T03:57","AIR":13.2},{"t":"2021-01-02T03:58","AIR":12.35},{"t":"2021-01-02T03:59","AIR":13.05},
{"t":"2021-01-02T04:00","AIR":12.6},{"t":"2021-01-02T04:01","AIR":13.15},{"t":"2021-01-02T04:02","AIR":12.7},{"t":"2021-01-02T04:03","AIR":13.3},{"t":"2021-01-02T04:04","AIR":12.7},{"t":"2021-01-02T04:05","AIR":13.2},{"t":"2021-01-02T04:06","AIR":12.9}
]
},
"encoding": {
"x": {"field": "t", "type": "temporal",
 "scale": {"domain": [{"year":2021,"month":1,"date":1,"hours":21,"minutes":54,"seconds":20},{"year":2021,"month":1,"date":2,"hours":4,"minutes":6,"seconds":26}]},
 "axis": {"values": [
  {"year":2021,"month":1,"date":1,"hours":21,"minutes":54,"seconds":20},
  {"year":2021,"month":1,"date":1,"hours":22,"minutes":8,"seconds":4},
  {"year":2021,"month":1,"date":1,"hours":22,"minutes":21,"seconds":48},
  {"year":2021,"month":1,"date":1,"hours":22,"minutes":35,"seconds":32},
  {"year":2021,"month":1,"date":1,"hours":22,"minutes":49,"seconds":16},
  {"year":2021,"month":1,"date":1,"hours":23,"minutes":3,"seconds":0},
  {"year":2021,"month":1,"date":1,"hours":23,"minutes":16,"seconds":44},
  {"year":2021,"month":1,"date":1,"hours":23,"minutes":30,"seconds":28},
  {"year":2021,"month":1,"date":1,"hours":23,"minutes":44,"seconds":12},
  {"year":2021,"month":1,"date":1,"hours":23,"minutes":57,"seconds":56},
  {"year":2021,"month":1,"date":2,"hours":0,"minutes":11,"seconds":40},
  {"year":2021,"month":1,"date":2,"hours":0,"minutes":25,"seconds":24},
  {"year":2021,"month":1,"date":2,"hours":0,"minutes":39,"seconds":8},
  {"year":2021,"month":1,"date":2,"hours":0,"minutes":52,"seconds":52},
  {"year":2021,"month":1,"date":2,"hours":1,"minutes":6,"seconds":36},
  {"year":2021,"month":1,"date":2,"hours":1,"minutes":20,"seconds":20},
  {"year":2021,"month":1,"date":2,"hours":1,"minutes":34,"seconds":4},
  {"year":2021,"month":1,"date":2,"hours":1,"minutes":47,"seconds":48},
  {"year":2021,"month":1,"date":2,"hours":2,"minutes":1,"seconds":32},
  {"year":2021,"month":1,"date":2,"hours":2,"minutes":15,"seconds":16},
  {"year":2021,"month":1,"date":2,"hours":2,"minutes":29,"seconds":0},
  {"year":2021,"month":1,"date":2,"hours":2,"minutes":42,"seconds":44},
  {"year":2021,"month":1,"date":2,"hours":2,"minutes":56,"seconds":28},
  {"year":2021,"month":1,"date":2,"hours":3,"minutes":10,"seconds":12},
  {"year":2021,"month":1,"date":2,"hours":3,"minutes":23,"seconds":56},
  {"year":2021,"month":1,"date":2,"hours":3,"minutes":37,"seconds":40},
  {"year":2021,"month":1,"date":2,"hours":3,"minutes":51,"seconds":24}],
  "format": "%-H:%M:%S", "labelAngle": 270, "labelFont": "DejaVu Sans", "labelFontSize": 41, "labelColor": "#595959", "labelPadding": 30, "labelOverlap": false, "labelFlush": false, "labelLimit": 500,
  "grid": false, "ticks": false, "domain": false,
  "title": "Time", "titleFont": "Open Sans", "titleFontSize": 48, "titleFontWeight": "normal", "titleColor": "#595959", "titlePadding": 46}},
"y": {"field": "temp", "type": "quantitative",
 "scale": {"domain": [10, 24], "nice": false, "zero": false},
 "axis": {"values": [10,12,14,16,18,20,22,24], "grid": true, "gridColor": "#D9D9D9", "gridWidth": 2.5, "domain": false, "ticks": false,
  "labelFont": "Open Sans", "labelFontSize": 45, "labelColor": "#595959", "labelPadding": 51,
  "title": "Temperature (°C)", "titleFont": "Open Sans", "titleFontSize": 50, "titleFontWeight": "normal", "titleColor": "#595959", "titlePadding": 20}},
"color": {"field": "series", "type": "nominal",
 "scale": {"domain": ["GLASS","ITO W/PVF","ITO","PVF","AIR"], "range": ["#4472C4","#ED7D31","#A5A5A5","#FFC000","#5B9BD5"]},
 "legend": {"title": null, "orient": "none", "legendX": 32, "legendY": -173, "direction": "horizontal", "columns": 5, "symbolType": "stroke", "symbolSize": 13689, "labelFont": "Open Sans", "labelFontSize": 46, "labelColor": "#595959", "labelOffset": 18, "columnPadding": 48, "labelLimit": 500}},
"strokeWidth": {"field": "series", "type": "nominal",
 "scale": {"domain": ["GLASS","ITO W/PVF","ITO","PVF","AIR"], "range": [7.5,7.5,7.5,7.5,3.5]},
 "legend": {"title": null, "orient": "none", "legendX": 32, "legendY": -173, "direction": "horizontal", "columns": 5, "symbolType": "stroke", "symbolSize": 13689, "labelFont": "Open Sans", "labelFontSize": 46, "labelColor": "#595959", "labelOffset": 18, "columnPadding": 48, "labelLimit": 500}}
},
"layer": [
{"data": {"name": "smooth"}, "transform": [{"fold": ["GLASS","ITO W/PVF","ITO","PVF"], "as": ["series","temp"]}], "mark": {"type": "line", "strokeJoin": "round", "strokeCap": "round"}},
{"data": {"name": "air"}, "transform": [{"fold": ["AIR"], "as": ["series","temp"]}], "mark": {"type": "line", "strokeJoin": "round", "strokeCap": "round"}}
]
}
